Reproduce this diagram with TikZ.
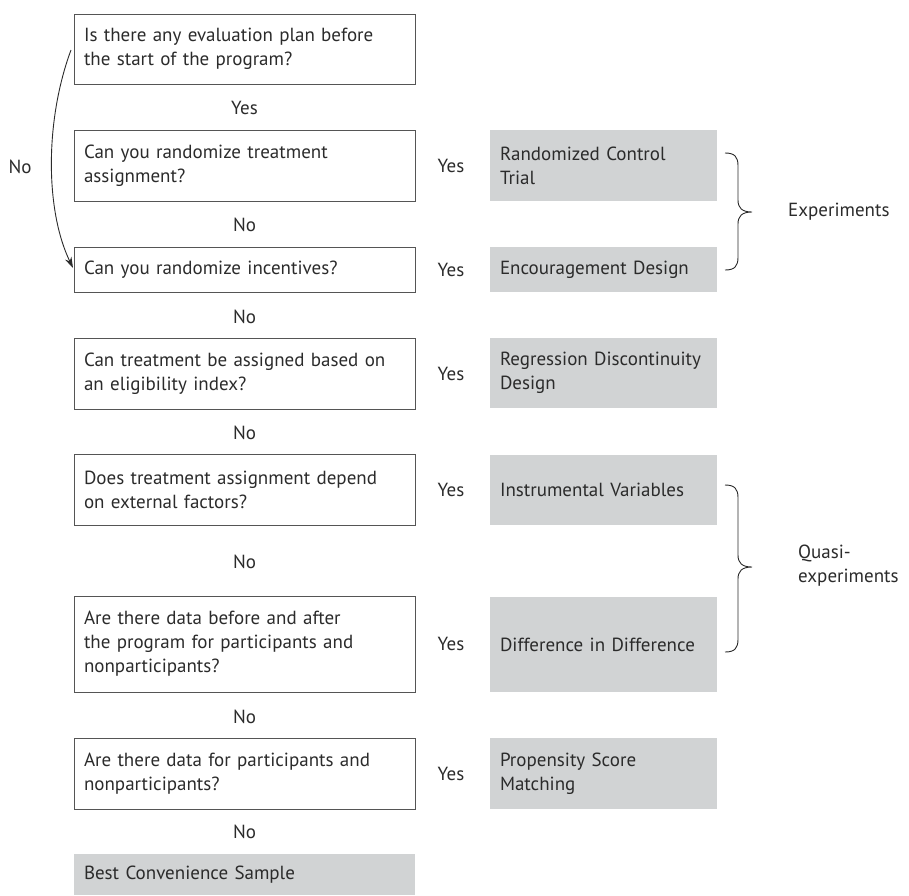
\documentclass[tikz,border=0pt]{standalone}
\usepackage{fontspec}
\setmainfont{PT Sans}
\usetikzlibrary{arrows.meta,calc}
\definecolor{boxgray}{HTML}{D1D3D4}
\definecolor{ink}{HTML}{2B2B2B}
\definecolor{edge}{HTML}{555555}
\newcommand{\mybrace}[3]{% top coord, bottom coord, tip coord
  \draw[brc] (#1) .. controls ($(#1)+(10,0)$) and ($(#1)+(13,4)$) .. ($(#1)+(13,13)$)
    -- ($(#3)+(-14,-12)$) .. controls ($(#3)+(-14,-4)$) and ($(#3)+(-10,0)$) .. (#3)
    .. controls ($(#3)+(-10,0)$) and ($(#3)+(-14,4)$) .. ($(#3)+(-14,12)$)
    -- ($(#2)+(13,-13)$) .. controls ($(#2)+(13,-4)$) and ($(#2)+(10,0)$) .. (#2);}
\begin{document}
\begin{tikzpicture}[x=1pt,y=-1pt,
  every node/.style={text=ink,font=\fontsize{19}{24}\selectfont},
  qbox/.style={draw=edge,line width=0.9pt,minimum width=341pt,text width=321pt,inner xsep=10pt,inner ysep=0pt,align=left},
  rbox/.style={fill=boxgray,minimum width=227pt,text width=207pt,inner xsep=10pt,inner ysep=0pt,align=left},
  lbl/.style={inner sep=0pt},
  brc/.style={draw=ink,line width=0.9pt}]
\useasboundingbox (0,0) rectangle (909,895);
% question boxes
\node[qbox,minimum height=70pt] (q1) at (244.5,49) {Is there any evaluation plan before\\the start of the program?};
\node[qbox,minimum height=71pt] (q2) at (244.5,165.5) {Can you randomize treatment\\assignment?};
\node[qbox,minimum height=45pt] (q3) at (244.5,269.5) {Can you randomize incentives?};
\node[qbox,minimum height=71pt] (q4) at (244.5,373.5) {Can treatment be assigned based on\\an eligibility index?};
\node[qbox,minimum height=71pt] (q5) at (244.5,489.5) {Does treatment assignment depend\\on external factors?};
\node[qbox,minimum height=96pt] (q6) at (244.5,644) {Are there data before and after\\the program for participants and\\nonparticipants?};
\node[qbox,minimum height=71pt] (q7) at (244.5,773.5) {Are there data for participants and\\nonparticipants?};
\node[rbox,minimum width=341pt,text width=321pt,minimum height=41pt] (best) at (244.5,874.5) {Best Convenience Sample};
% result boxes
\node[rbox,minimum height=71pt] (r1) at (603.5,165.5) {Randomized Control\\Trial};
\node[rbox,minimum height=45pt] (r2) at (603.5,269.5) {Encouragement Design};
\node[rbox,minimum height=70pt] (r3) at (603.5,373) {Regression Discontinuity\\Design};
\node[rbox,minimum height=70pt] (r4) at (603.5,490) {Instrumental Variables};
\node[rbox,minimum height=95pt] (r5) at (603.5,644.5) {Difference in Difference};
\node[rbox,minimum height=71pt] (r6) at (603.5,773.5) {Propensity Score\\Matching};
% yes labels
\node[lbl] (y1) at (451,165.5) {Yes};
\node[lbl] (y2) at (451,269.5) {Yes};
\node[lbl] (y3) at (451,373.5) {Yes};
\node[lbl] (y4) at (451,489.5) {Yes};
\node[lbl] (y5) at (451,644) {Yes};
\node[lbl] (y6) at (451,773.5) {Yes};
% between labels
\node[lbl] (a1) at (244.5,108) {Yes};
\node[lbl] (a2) at (244.5,225) {No};
\node[lbl] (a3) at (244.5,317) {No};
\node[lbl] (a4) at (244.5,433) {No};
\node[lbl] (a5) at (244.5,562) {No};
\node[lbl] (a6) at (244.5,717) {No};
\node[lbl] (a7) at (244.5,832) {No};
% curved no arrow
\coordinate (s) at (71,50);
\coordinate (e) at (73,268);
\draw[draw=ink,line width=0.9pt,-{Stealth[length=11pt,width=7pt]}] (s) .. controls (45,120) and (45,210) .. (e);
\node[lbl] (nol) at (20,167) {No};
% braces
\coordinate (b1t) at (725,153);
\coordinate (b1b) at (725,270);
\coordinate (b1m) at (752,212);
\mybrace{b1t}{b1b}{b1m}
\node[lbl,anchor=west] (exp) at (788,212) {Experiments};
\coordinate (b2t) at (725,485);
\coordinate (b2b) at (725,652);
\coordinate (b2m) at (752,567);
\mybrace{b2t}{b2b}{b2m}
\node[lbl,anchor=west,align=left] (qexp) at (798,566) {Quasi-\\experiments};
\end{tikzpicture}
\end{document}
